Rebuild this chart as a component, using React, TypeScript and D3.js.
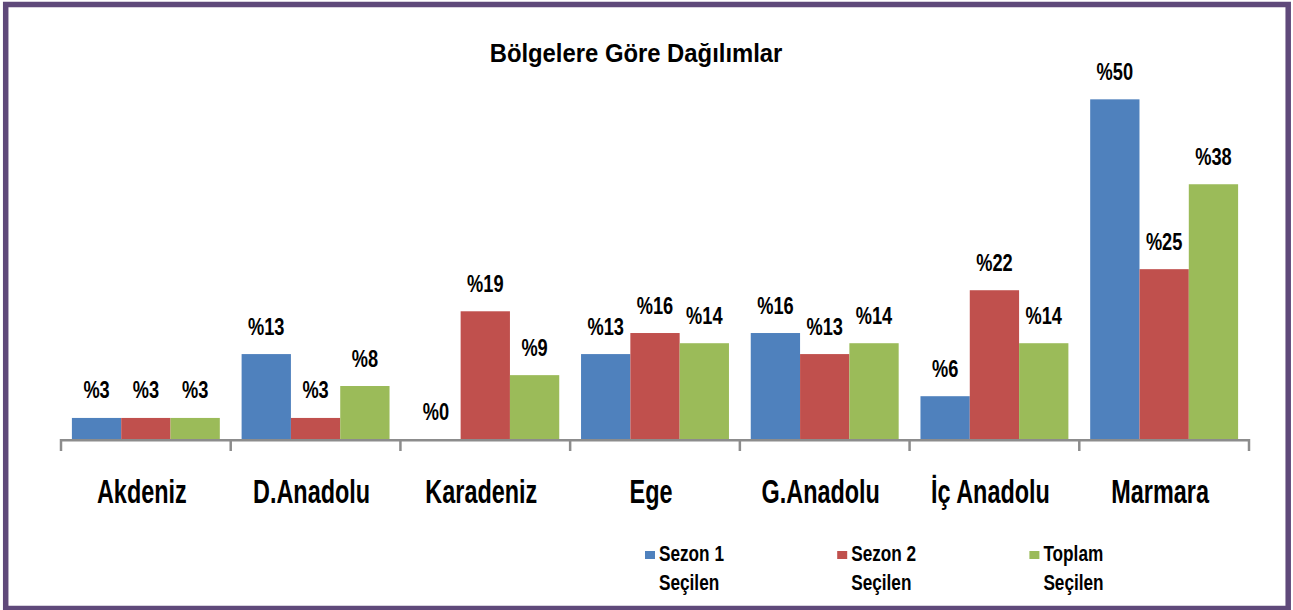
import React from "react";
import * as d3 from "d3";

const regions = [
  "Akdeniz",
  "D.Anadolu",
  "Karadeniz",
  "Ege",
  "G.Anadolu",
  "İç Anadolu",
  "Marmara",
];

const seriesNames = ["Sezon 1", "Sezon 2", "Toplam"];
const seriesColors = ["#4F81BD", "#C0504D", "#9BBB59"];

// percentages (labels are the rounded values)
const sezon1 = [3.1, 12.5, 0, 12.5, 15.6, 6.3, 50];
const sezon2 = [3.1, 3.1, 18.8, 15.6, 12.5, 21.9, 25];
const toplam = [3.1, 7.8, 9.4, 14.1, 14.1, 14.1, 37.5];

const seriesValues = [sezon1, sezon2, toplam];

const W = 1293;
const H = 610;
const font = "'Liberation Sans', Arial, sans-serif";

const App: React.FC = () => {
  const baseY = 439;
  const x = d3.scaleBand<string>().domain(regions).range([61, 1249]).padding(0);
  const xs = d3
    .scaleBand<string>()
    .domain(seriesNames)
    .range([0, x.bandwidth()])
    .paddingInner(0)
    .paddingOuter(0.221);
  const y = d3.scaleLinear().domain([0, 60]).range([baseY, 31.4]);

  const ticks = regions.map((r) => x(r) ?? 0).concat([x.range()[1]]);

  return (
    <div style={{ position: "absolute", left: 0, top: 0 }}>
      <svg width={W} height={H} style={{ display: "block", background: "#fff" }}>
        <rect
          x={5.7}
          y={4.5}
          width={1282.5}
          height={604}
          fill="#fff"
          stroke="#5F497A"
          strokeWidth={5.5}
        />

        <text
          transform={`translate(636,61.7) scale(0.9,1)`}
          textAnchor="middle"
          fontFamily={font}
          fontWeight="bold"
          fontSize={26.5}
          fill="#000"
        >
          Bölgelere Göre Dağılımlar
        </text>

        {/* bars */}
        {regions.map((r, i) => (
          <g key={r} transform={`translate(${x(r)},0)`}>
            {seriesNames.map((s, k) => {
              const v = seriesValues[k][i];
              const bx = xs(s) ?? 0;
              return (
                <g key={s}>
                  <rect
                    x={bx}
                    y={y(v)}
                    width={xs.bandwidth()}
                    height={baseY - y(v)}
                    fill={seriesColors[k]}
                  />
                  <text
                    transform={`translate(${bx + xs.bandwidth() / 2},${y(v) - 19.5}) scale(0.76,1)`}
                    textAnchor="middle"
                    fontFamily={font}
                    fontWeight="bold"
                    fontSize={24}
                    fill="#000"
                  >
                    %{Math.round(v)}
                  </text>
                </g>
              );
            })}
          </g>
        ))}

        {/* axis */}
        <line
          x1={x.range()[0]}
          x2={x.range()[1]}
          y1={baseY + 1.2}
          y2={baseY + 1.2}
          stroke="#8C8C8C"
          strokeWidth={2.5}
        />
        {ticks.map((t, i) => (
          <line
            key={i}
            x1={t}
            x2={t}
            y1={baseY}
            y2={baseY + 12}
            stroke="#8C8C8C"
            strokeWidth={2.5}
          />
        ))}
        {regions.map((r) => (
          <text
            key={r}
            transform={`translate(${(x(r) ?? 0) + x.bandwidth() / 2 - 4},503.3) scale(0.71,1)`}
            textAnchor="middle"
            fontFamily={font}
            fontWeight="bold"
            fontSize={33}
            fill="#000"
          >
            {r}
          </text>
        ))}

        {/* legend */}
        {seriesNames.map((s, k) => {
          const lx = 645 + k * 192.2;
          return (
            <g key={s}>
              <rect x={lx} y={551} width={10} height={8} fill={seriesColors[k]} />
              <text
                transform={`translate(${lx + 14},560.7) scale(0.8,1)`}
                fontFamily={font}
                fontWeight="bold"
                fontSize={21.5}
                fill="#000"
              >
                {s}
              </text>
              <text
                transform={`translate(${lx + 14},590) scale(0.8,1)`}
                fontFamily={font}
                fontWeight="bold"
                fontSize={21.5}
                fill="#000"
              >
                Seçilen
              </text>
            </g>
          );
        })}
      </svg>
    </div>
  );
};

export default App;
